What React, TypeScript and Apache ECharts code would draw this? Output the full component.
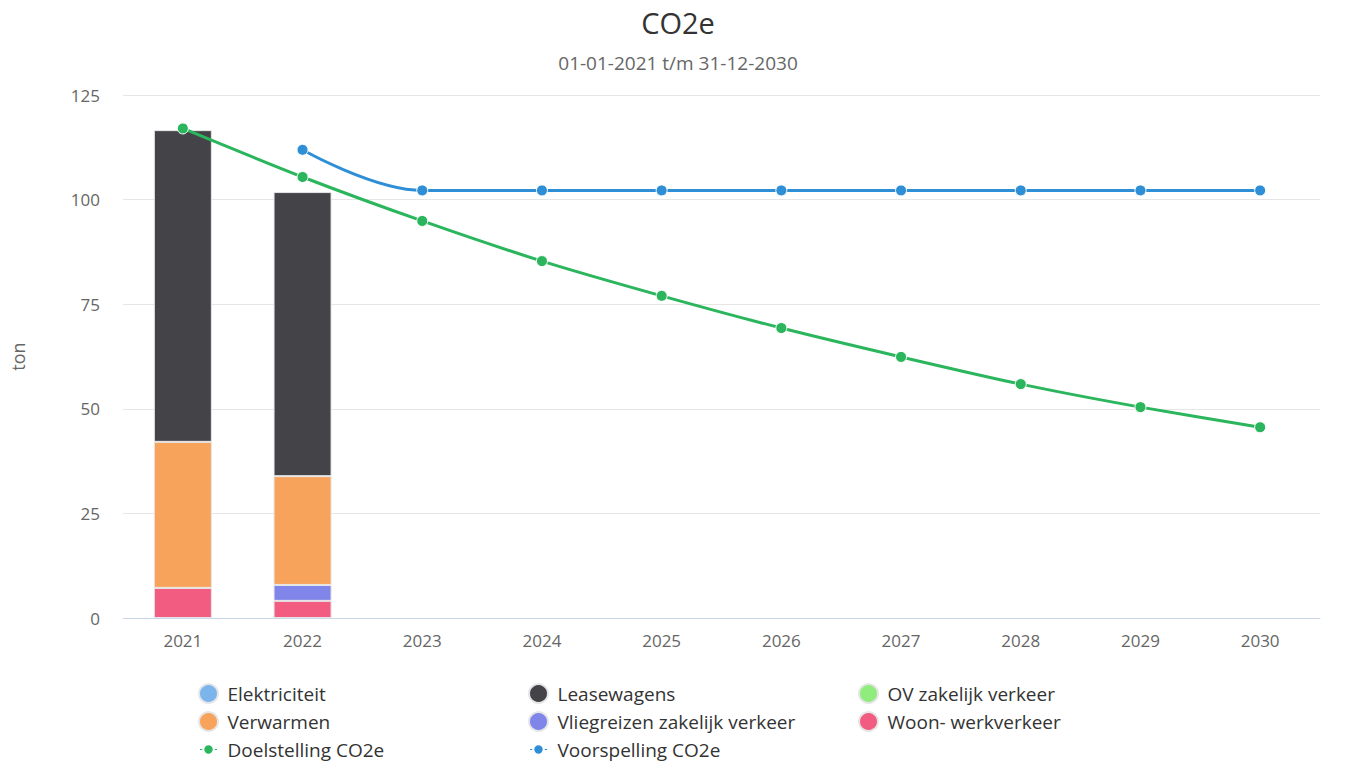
import React, { useEffect, useRef } from "react";
import * as echarts from "echarts";

const years = ["2021", "2022", "2023", "2024", "2025", "2026", "2027", "2028", "2029", "2030"];
const elektriciteit: (number | null)[] = [null, null, null, null, null, null, null, null, null, null];
const verwarmen: (number | null)[] = [34.9, 26.0, null, null, null, null, null, null, null, null];
const leasewagens: (number | null)[] = [74.5, 67.9, null, null, null, null, null, null, null, null];
const ovZakelijk: (number | null)[] = [null, null, null, null, null, null, null, null, null, null];
const vliegreizen: (number | null)[] = [null, 3.8, null, null, null, null, null, null, null, null];
const woonWerk: (number | null)[] = [7.2, 4.1, null, null, null, null, null, null, null, null];
const doelstelling: number[] = [117.0, 105.4, 94.9, 85.3, 77.0, 69.3, 62.4, 55.9, 50.4, 45.6];
const voorspelling: (number | null)[] = [null, 111.9, 102.2, 102.2, 102.2, 102.2, 102.2, 102.2, 102.2, 102.2];
const yTicks = { min: 0, max: 125, interval: 25 };

const FONT = "'Open Sans', 'Noto Sans', sans-serif";
const LINE_ICON =
  "path://M0,8.5L4.5,8.5L4.5,11.5L0,11.5Z M15.5,8.5L20,8.5L20,11.5L15.5,11.5Z M4.5,10A5.5,5.5 0 1 1 15.5,10A5.5,5.5 0 1 1 4.5,10Z M0,0L0.01,0L0.01,0.01Z M0,20L0.01,20L0.01,19.99Z";

export default function App() {
  const ref = useRef<HTMLDivElement>(null);
  useEffect(() => {
    document.body.style.margin = "0";
    const chart = echarts.init(ref.current!, undefined, { renderer: "svg" });
    const bar = (name: string, data: (number | null)[], color: string) => ({
      name,
      type: "bar",
      stack: "total",
      data,
      barWidth: 58,
      itemStyle: { color, borderColor: "#e6e6e6", borderWidth: 1 },
      z: 2,
    });
    const legendBase = {
      orient: "vertical",
      top: 683,
      padding: 0,
      itemGap: 7,
      itemWidth: 20,
      itemHeight: 19,
      textStyle: { fontFamily: FONT, fontSize: 19, color: "#333", padding: [0, 0, 0, 4] },
      selectedMode: false,
    };
    chart.setOption({
      animation: false,
      textStyle: { fontFamily: FONT },
      title: {
        text: "CO2e",
        subtext: "01-01-2021 t/m 31-12-2030",
        left: 673,
        textAlign: "center",
        top: 3,
        itemGap: 16,
        textStyle: { fontFamily: FONT, fontSize: 29, fontWeight: "normal", color: "#333" },
        subtextStyle: { fontFamily: FONT, fontSize: 19, color: "#666" },
      },
      grid: { left: 123, right: 52, top: 95, bottom: 144, containLabel: false },
      legend: [
        { ...legendBase, left: 198, data: [
          { name: "Elektriciteit", icon: "circle" },
          { name: "Verwarmen", icon: "circle" },
          { name: "Doelstelling CO2e", icon: LINE_ICON },
        ] },
        { ...legendBase, left: 528, data: [
          { name: "Leasewagens", icon: "circle" },
          { name: "Vliegreizen zakelijk verkeer", icon: "circle" },
          { name: "Voorspelling CO2e", icon: LINE_ICON },
        ] },
        { ...legendBase, left: 858, data: [
          { name: "OV zakelijk verkeer", icon: "circle" },
          { name: "Woon- werkverkeer", icon: "circle" },
        ] },
      ],
      xAxis: {
        type: "category",
        data: years,
        axisLine: { lineStyle: { color: "#ccd6eb" } },
        axisTick: { show: false },
        axisLabel: { color: "#666", fontSize: 17, margin: 14 },
      },
      yAxis: {
        type: "value",
        ...yTicks,
        name: "ton",
        nameLocation: "middle",
        nameGap: 96,
        nameTextStyle: { color: "#666", fontSize: 18 },
        axisLabel: { color: "#666", fontSize: 17, margin: 23 },
        splitLine: { lineStyle: { color: "#e6e6e6" } },
      },
      series: [
        bar("Elektriciteit", elektriciteit, "#7cb5ec"),
        bar("Woon- werkverkeer", woonWerk, "#f15c80"),
        bar("Vliegreizen zakelijk verkeer", vliegreizen, "#8085e9"),
        bar("OV zakelijk verkeer", ovZakelijk, "#90ed7d"),
        bar("Verwarmen", verwarmen, "#f7a35c"),
        bar("Leasewagens", leasewagens, "#434348"),
        {
          name: "Doelstelling CO2e",
          type: "line",
          data: doelstelling,
          smooth: 0.25,
          symbol: "circle",
          symbolSize: 11,
          lineStyle: { color: "#2bb55c", width: 3 },
          itemStyle: { color: "#2bb55c", borderColor: "#fff", borderWidth: 1 },
          z: 5,
        },
        {
          name: "Voorspelling CO2e",
          type: "line",
          data: voorspelling,
          smooth: 0.4,
          smoothMonotone: "x",
          symbol: "circle",
          symbolSize: 11,
          lineStyle: { color: "#2f8fd6", width: 3 },
          itemStyle: { color: "#2f8fd6", borderColor: "#fff", borderWidth: 1 },
          z: 5,
        },
      ],
    });
    return () => chart.dispose();
  }, []);
  return <div ref={ref} style={{ position: "absolute", left: 0, top: 0, width: 1372, height: 762 }} />;
}
